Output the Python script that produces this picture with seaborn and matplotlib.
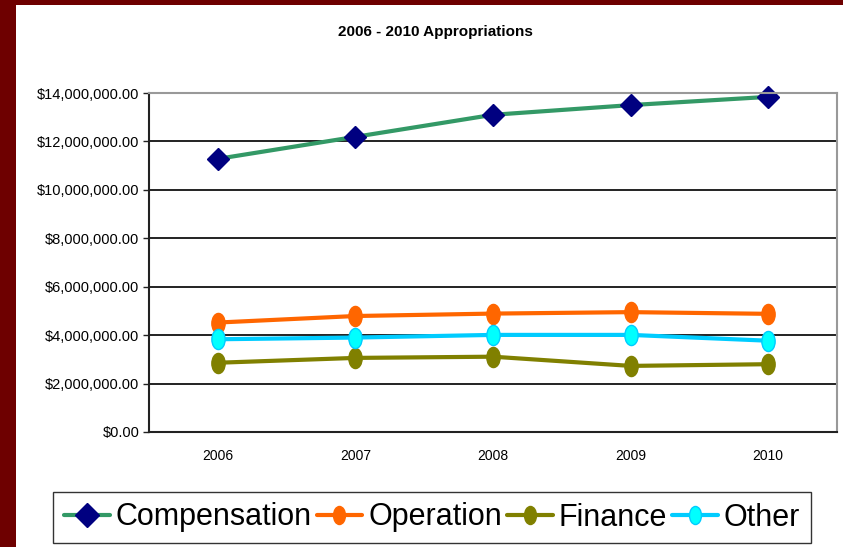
import numpy as np
import pandas as pd
import seaborn as sns
import matplotlib.pyplot as plt
from matplotlib.path import Path
from matplotlib.lines import Line2D
from matplotlib.patches import Rectangle
from matplotlib.ticker import FuncFormatter, MultipleLocator

years = ['2006', '2007', '2008', '2009', '2010']
series = ['Compensation', 'Operation', 'Finance', 'Other']
compensation = [11.28e6, 12.19e6, 13.10e6, 13.50e6, 13.84e6]
operation = [4.52e6, 4.79e6, 4.89e6, 4.95e6, 4.88e6]
finance = [2.86e6, 3.06e6, 3.11e6, 2.73e6, 2.80e6]
other = [3.83e6, 3.90e6, 4.01e6, 4.01e6, 3.77e6]

line_colors = {'Compensation': '#339966', 'Operation': '#ff6600',
               'Finance': '#808000', 'Other': '#00ccff'}
face_colors = {'Compensation': '#000080', 'Operation': '#ff6600',
               'Finance': '#808000', 'Other': '#00ffff'}

# long form table
df = pd.DataFrame({
    'pos': list(range(len(years))) * 4,
    'value': compensation + operation + finance + other,
    'series': np.repeat(series, len(years)),
})

sns.set_style('white')
plt.rcParams['font.family'] = ['Liberation Sans', 'DejaVu Sans']
plt.rcParams['text.color'] = 'black'
plt.rcParams['xtick.color'] = 'black'
plt.rcParams['ytick.color'] = 'black'

fig = plt.figure(figsize=(8.43, 5.47), dpi=100)
fig.patch.set_facecolor('#6e0000')
fig.patches.append(Rectangle((16 / 843, 0), 1, 1 - 5 / 547, transform=fig.transFigure,
                             facecolor='white', edgecolor='none', zorder=-10))

ax = fig.add_axes([149 / 843, 1 - 432 / 547, (837 - 149) / 843, (432 - 93) / 547])
sns.lineplot(data=df, x='pos', y='value', hue='series', hue_order=series,
             palette=line_colors, marker='o', linewidth=3, legend=False, ax=ax)

# squashed circle like the original
uc = Path.unit_circle()
ellipse = Path(uc.vertices * np.array([0.66, 1.0]), uc.codes)

for line, name in zip(ax.lines, series):
    if name == 'Compensation':
        line.set_marker('D')
        line.set_markersize(11)
    else:
        line.set_marker(ellipse)
        line.set_markersize(14.5)
    line.set_markerfacecolor(face_colors[name])
    line.set_markeredgecolor(face_colors[name] if name != 'Other' else '#00ccff')
    line.set_markeredgewidth(1)
    line.set_clip_on(False)

ax.set_xlim(-0.5, 4.5)
ax.set_ylim(0, 14e6)
ax.set_xticks(range(len(years)))
ax.set_xticklabels(years, fontsize=10)
ax.set_xticks(np.arange(-0.5, 5, 1), minor=True)
ax.tick_params(axis='x', which='major', length=0, pad=12)
ax.tick_params(axis='x', which='minor', length=5, width=1, color='#222222', direction='out')
ax.yaxis.set_major_locator(MultipleLocator(2e6))
ax.yaxis.set_major_formatter(FuncFormatter(lambda v, p: '${:,.2f}'.format(v)))
ax.tick_params(axis='y', length=4, width=1, color='#222222', labelsize=10.5, pad=3, left=True)
ax.grid(axis='y', color='#111111', linewidth=1.3)
ax.set_axisbelow(True)
ax.set_xlabel('')
ax.set_ylabel('')
for side in ['left', 'bottom']:
    ax.spines[side].set_color('#222222')
    ax.spines[side].set_linewidth(1.5)
for side in ['top', 'right']:
    ax.spines[side].set_color('#999999')
    ax.spines[side].set_linewidth(1.5)

fig.text(435 / 843, 1 - 32 / 547, '2006 - 2010 Appropriations', ha='center', va='center',
         fontsize=11, fontweight='bold')

handles = []
for name in series:
    handles.append(Line2D([], [], color=line_colors[name], linewidth=3,
                          marker='D' if name == 'Compensation' else ellipse,
                          markersize=12 if name == 'Compensation' else 13,
                          markerfacecolor=face_colors[name],
                          markeredgecolor=face_colors[name] if name != 'Other' else '#00ccff'))
leg = fig.legend(handles, series, loc='center', bbox_to_anchor=(432 / 843, 1 - 517.5 / 547),
                 ncol=4, fontsize=22, frameon=True, fancybox=False, handlelength=1.5,
                 handletextpad=0.2, columnspacing=0.15, borderpad=0.35, borderaxespad=0)
leg.get_frame().set_edgecolor('black')
leg.get_frame().set_linewidth(1)

fig.savefig('out.png', dpi=100, facecolor=fig.get_facecolor())
